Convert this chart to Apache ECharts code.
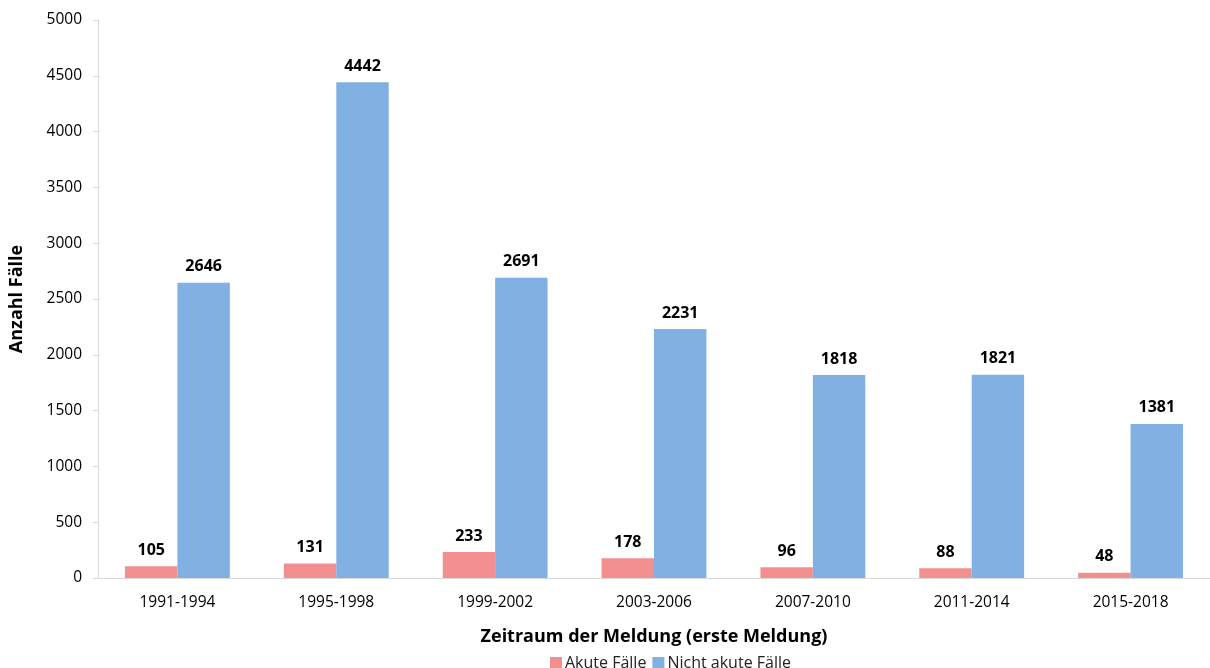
<!DOCTYPE html>
<html>
<head>
<meta charset="utf-8">
<script src="https://cdn.jsdelivr.net/npm/echarts@6/dist/echarts.min.js"></script>
<style>
  html, body { margin: 0; padding: 0; background: #fff; }
  #chart { width: 1210px; height: 668px; }
</style>
</head>
<body>
<div id="chart"></div>
<script>
const categories = ['1991-1994', '1995-1998', '1999-2002', '2003-2006', '2007-2010', '2011-2014', '2015-2018']
const akuteFaelle = [105, 131, 233, 178, 96, 88, 48]
const nichtAkuteFaelle = [2646, 4442, 2691, 2231, 1818, 1821, 1381]

const fontFamily = '"Open Sans", "Noto Sans", sans-serif'

const labelStyle = {
  show: true,
  position: 'top',
  distance: 8,
  color: '#000',
  fontWeight: 'bold',
  fontSize: 16,
  fontFamily: fontFamily
}

const chart = echarts.init(document.getElementById('chart'))
chart.setOption({
  animation: false,
  textStyle: { fontFamily: fontFamily },
  // the original picture is cut off on the right, so the grid runs past the edge
  grid: { left: 97, width: 1119, top: 20, bottom: 90, containLabel: false },
  legend: {
    top: 650,
    left: 545,
    itemWidth: 12,
    itemHeight: 12,
    itemGap: 6,
    icon: 'rect',
    textStyle: { fontSize: 16, color: '#222', fontFamily: fontFamily, padding: [0, 0, 0, -2] },
    data: ['Akute Fälle', 'Nicht akute Fälle']
  },
  xAxis: {
    type: 'category',
    data: categories,
    name: 'Zeitraum der Meldung (erste Meldung)',
    nameLocation: 'middle',
    nameGap: 50,
    nameTextStyle: { fontSize: 18, fontWeight: 'bold', color: '#000', padding: [0, 0, 0, 0] },
    axisLine: { lineStyle: { color: '#d9d9d9' } },
    axisTick: { show: false },
    axisLabel: { fontSize: 15.5, color: '#000', margin: 17 }
  },
  yAxis: {
    type: 'value',
    min: 0,
    max: 5000,
    interval: 500,
    name: 'Anzahl Fälle',
    nameLocation: 'middle',
    nameGap: 72,
    nameTextStyle: { fontSize: 18, fontWeight: 'bold', color: '#000' },
    axisLine: { show: true, lineStyle: { color: '#d9d9d9' } },
    axisTick: { show: true, length: 5, lineStyle: { color: '#d9d9d9' } },
    splitLine: { show: false },
    axisLabel: { fontSize: 15.5, color: '#000', margin: 16, formatter: v => String(v) }
  },
  series: [
    {
      name: 'Akute Fälle',
      type: 'bar',
      data: akuteFaelle,
      barGap: '0%',
      barCategoryGap: '34%',
      itemStyle: { color: '#F28F8F' },
      label: labelStyle
    },
    {
      name: 'Nicht akute Fälle',
      type: 'bar',
      data: nichtAkuteFaelle,
      itemStyle: { color: '#80B1E2' },
      label: labelStyle
    }
  ]
})
</script>
</body>
</html>
